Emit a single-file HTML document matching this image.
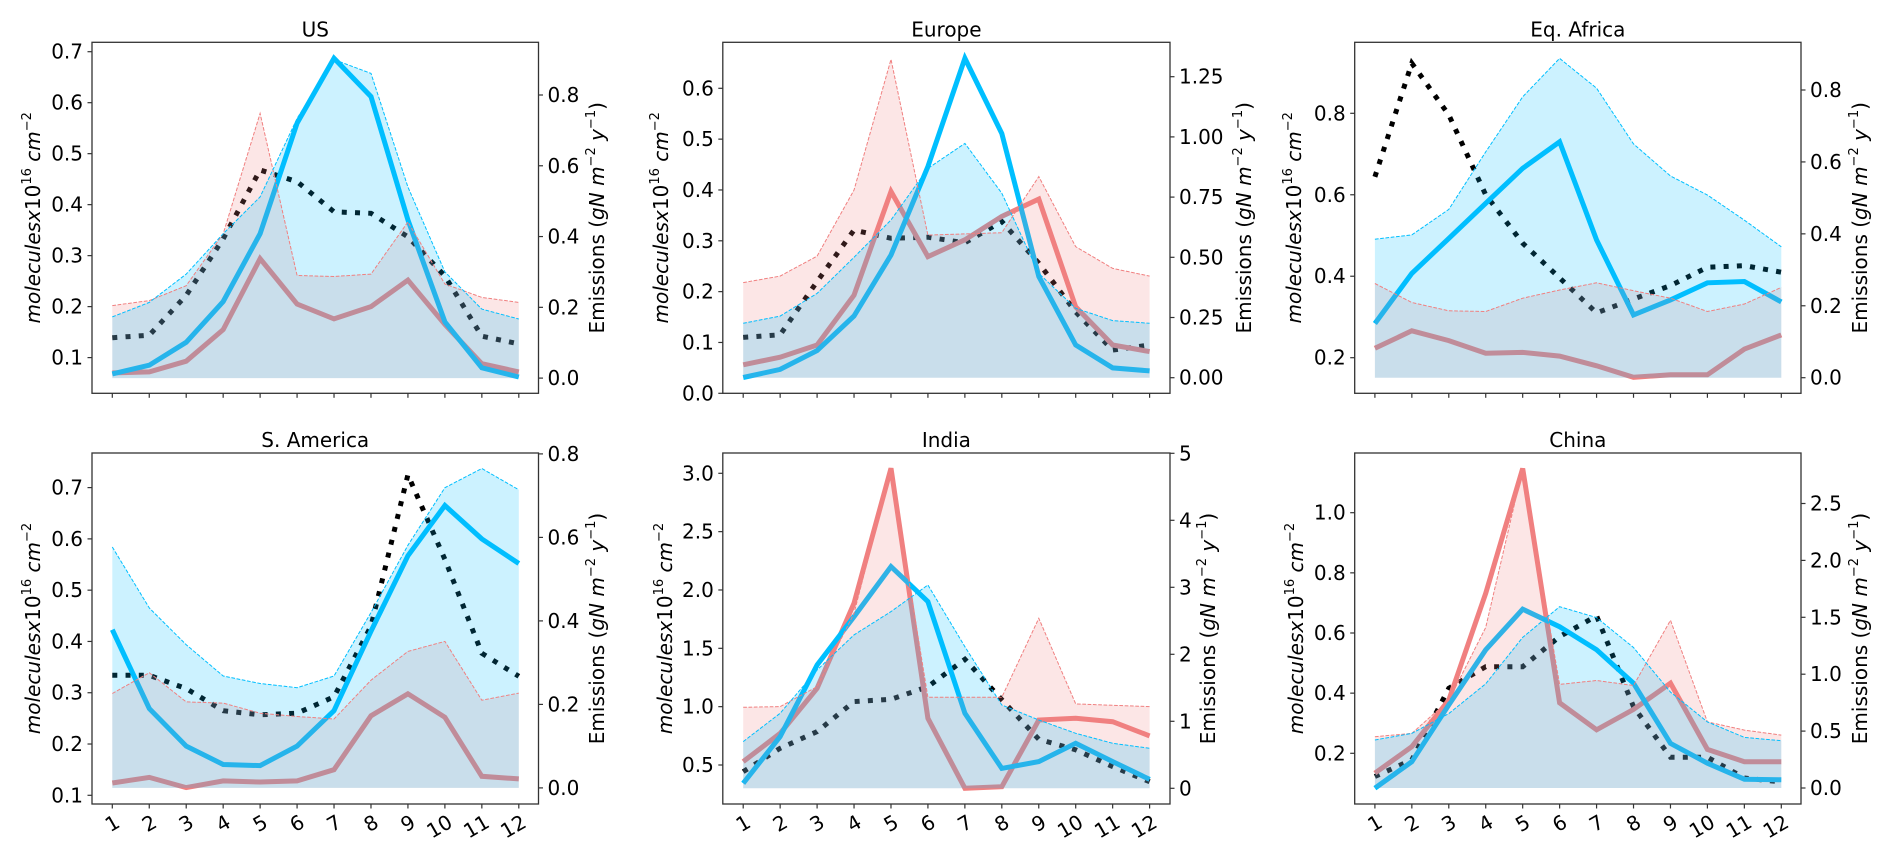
<!DOCTYPE html>
<html><head><meta charset="utf-8">
<style>
html,body{margin:0;padding:0;background:#fff;}
svg{display:block;font-family:"DejaVu Sans","Liberation Sans",sans-serif;}
</style></head>
<body>
<svg id="chart" width="1892" height="858" viewBox="0 0 1892 858" xmlns="http://www.w3.org/2000/svg"></svg>
<script>
const months = [1,2,3,4,5,6,7,8,9,10,11,12];

const usBlueLine   = [0.068,0.085,0.13,0.21,0.343,0.56,0.687,0.612,0.37,0.17,0.08,0.062];
const usRedLine    = [0.07,0.072,0.093,0.155,0.294,0.205,0.176,0.2,0.252,0.165,0.088,0.072];
const usDotted     = [0.139,0.144,0.222,0.333,0.468,0.445,0.386,0.383,0.337,0.26,0.142,0.127];
const usRedBand    = [0.205,0.219,0.261,0.408,0.748,0.29,0.287,0.294,0.441,0.266,0.228,0.214];
const usBlueBand   = [0.173,0.214,0.294,0.408,0.512,0.734,0.9,0.861,0.54,0.3,0.195,0.167];

const euBlueLine   = [0.031,0.047,0.084,0.152,0.272,0.446,0.659,0.511,0.23,0.095,0.05,0.044];
const euRedLine    = [0.056,0.071,0.095,0.193,0.397,0.269,0.302,0.348,0.382,0.17,0.095,0.082];
const euDotted     = [0.11,0.115,0.22,0.321,0.305,0.307,0.296,0.338,0.256,0.16,0.085,0.095];
const euRedBand    = [0.395,0.422,0.505,0.779,1.322,0.592,0.597,0.602,0.835,0.544,0.454,0.422];
const euBlueBand   = [0.226,0.256,0.35,0.5,0.655,0.869,0.973,0.766,0.433,0.288,0.237,0.226];

const afBlueLine   = [0.284,0.407,0.493,0.579,0.665,0.73,0.489,0.305,0.342,0.384,0.387,0.337];
const afRedLine    = [0.223,0.266,0.242,0.211,0.213,0.204,0.18,0.152,0.158,0.158,0.221,0.256];
const afDotted     = [0.644,0.923,0.796,0.6,0.481,0.396,0.31,0.344,0.377,0.422,0.426,0.41];
const afRedBand    = [0.262,0.209,0.186,0.184,0.221,0.244,0.264,0.242,0.221,0.184,0.205,0.251];
const afBlueBand   = [0.385,0.397,0.468,0.628,0.781,0.888,0.805,0.65,0.561,0.508,0.438,0.364];

const saBlueLine   = [0.423,0.269,0.196,0.16,0.158,0.196,0.265,0.42,0.567,0.665,0.6,0.552];
const saRedLine    = [0.124,0.135,0.115,0.128,0.126,0.128,0.15,0.255,0.298,0.252,0.137,0.132];
const saDotted     = [0.334,0.334,0.308,0.265,0.257,0.26,0.292,0.43,0.725,0.56,0.377,0.332];
const saRedBand    = [0.226,0.276,0.206,0.203,0.179,0.171,0.165,0.258,0.327,0.351,0.21,0.227];
const saBlueBand   = [0.577,0.431,0.343,0.268,0.25,0.24,0.268,0.42,0.581,0.719,0.765,0.714];

const inBlueLine   = [0.343,0.743,1.357,1.771,2.2,1.9,0.943,0.471,0.529,0.686,0.529,0.377];
const inRedLine    = [0.529,0.771,1.157,1.886,3.043,0.9,0.3,0.314,0.886,0.9,0.871,0.749];
const inDotted     = [0.443,0.643,0.786,1.043,1.063,1.171,1.406,1.06,0.72,0.63,0.486,0.357];
const inRedBand    = [1.209,1.219,1.517,2.612,4.751,1.358,1.358,1.358,2.537,1.259,1.239,1.219];
const inBlueBand   = [0.697,1.119,1.766,2.289,2.637,3.035,2.114,1.244,1.02,0.821,0.672,0.597];

const cnBlueLine   = [0.084,0.172,0.361,0.544,0.679,0.621,0.544,0.433,0.233,0.167,0.114,0.112];
const cnRedLine    = [0.134,0.222,0.377,0.732,1.147,0.368,0.278,0.346,0.433,0.213,0.172,0.172];
const cnDotted     = [0.123,0.178,0.416,0.488,0.488,0.588,0.657,0.355,0.187,0.187,0.118,0.105];
const cnRedBand    = [0.451,0.48,0.77,1.41,2.805,0.91,0.945,0.901,1.474,0.581,0.509,0.465];
const cnBlueBand   = [0.422,0.48,0.654,0.916,1.323,1.593,1.497,1.235,0.843,0.581,0.445,0.416];

const usLeftTicks = ["0.1","0.2","0.3","0.4","0.5","0.6","0.7"];
const usRightTicks = ["0.0","0.2","0.4","0.6","0.8"];
const euLeftTicks = ["0.0","0.1","0.2","0.3","0.4","0.5","0.6"];
const euRightTicks = ["0.00","0.25","0.50","0.75","1.00","1.25"];
const afLeftTicks = ["0.2","0.4","0.6","0.8"];
const afRightTicks = ["0.0","0.2","0.4","0.6","0.8"];
const saLeftTicks = ["0.1","0.2","0.3","0.4","0.5","0.6","0.7"];
const saRightTicks = ["0.0","0.2","0.4","0.6","0.8"];
const inLeftTicks = ["0.5","1.0","1.5","2.0","2.5","3.0"];
const inRightTicks = ["0","1","2","3","4","5"];
const cnLeftTicks = ["0.2","0.4","0.6","0.8","1.0"];
const cnRightTicks = ["0.0","0.5","1.0","1.5","2.0","2.5"];

const NS = "http://www.w3.org/2000/svg";
const svg = document.getElementById('chart');
function el(tag, attrs, parent){
  const e = document.createElementNS(NS, tag);
  for (const k in attrs) e.setAttribute(k, attrs[k]);
  (parent||svg).appendChild(e);
  return e;
}
function lin(v1,p1,v2,p2){ return v => p1 + (v - v1) * (p2 - p1) / (v2 - v1); }

const panels = [
  {key:'us', title:'US', x0:92, x1:538.5, y0:42.3, y1:393.3, mx1:112.3, mx12:518.8,
   L:[0.7,51.7,0.1,357.6], R:[0.8,95,0,378.1], leftLab:33, rightLab:597, xlabels:false,
   blue:usBlueLine, red:usRedLine, dot:usDotted, rb:usRedBand, bb:usBlueBand, lt:usLeftTicks, rt:usRightTicks},
  {key:'eu', title:'Europe', x0:722.8, x1:1170, y0:42.3, y1:393.3, mx1:743.2, mx12:1149.6,
   L:[0.6,88.3,0,393.3], R:[1.25,76.7,0,377.7], leftLab:661, rightLab:1244, xlabels:false,
   blue:euBlueLine, red:euRedLine, dot:euDotted, rb:euRedBand, bb:euBlueBand, lt:euLeftTicks, rt:euRightTicks},
  {key:'af', title:'Eq. Africa', x0:1354.7, x1:1801, y0:42.3, y1:393.3, mx1:1374.9, mx12:1781.3,
   L:[0.8,113.3,0.2,357.7], R:[0.8,90,0,377.7], leftLab:1294, rightLab:1860, xlabels:false,
   blue:afBlueLine, red:afRedLine, dot:afDotted, rb:afRedBand, bb:afBlueBand, lt:afLeftTicks, rt:afRightTicks},
  {key:'sa', title:'S. America', x0:92, x1:538.5, y0:453, y1:804, mx1:112.3, mx12:518.8,
   L:[0.7,487.6,0.1,795.3], R:[0.8,453.9,0,787.9], leftLab:33, rightLab:597, xlabels:true,
   blue:saBlueLine, red:saRedLine, dot:saDotted, rb:saRedBand, bb:saBlueBand, lt:saLeftTicks, rt:saRightTicks},
  {key:'in', title:'India', x0:722.8, x1:1170, y0:453, y1:804, mx1:743.2, mx12:1149.6,
   L:[3.0,473.3,0.5,765], R:[5,453.3,0,788.3], leftLab:665, rightLab:1208, xlabels:true,
   blue:inBlueLine, red:inRedLine, dot:inDotted, rb:inRedBand, bb:inBlueBand, lt:inLeftTicks, rt:inRightTicks},
  {key:'cn', title:'China', x0:1354.7, x1:1801, y0:453, y1:804, mx1:1374.9, mx12:1781.3,
   L:[1.0,512.7,0.2,753.3], R:[2.5,503.5,0,788], leftLab:1296, rightLab:1860, xlabels:true,
   blue:cnBlueLine, red:cnRedLine, dot:cnDotted, rb:cnRedBand, bb:cnBlueBand, lt:cnLeftTicks, rt:cnRightTicks}
];

function pathFrom(xs, ys){ return xs.map((x,i)=>(i?'L':'M')+x.toFixed(1)+','+ys[i].toFixed(1)).join(' '); }

panels.forEach(p => {
  const g = el('g', {});
  
  
  const xs = lin(1, p.mx1, 12, p.mx12);
  const yl = lin(p.L[0], p.L[1], p.L[2], p.L[3]);
  const yr = lin(p.R[0], p.R[1], p.R[2], p.R[3]);
  const X = months.map(m => xs(m));

  const dl = el('path', {d: pathFrom(X, p.dot.map(yl)), fill:'none', stroke:'#000', 'stroke-width':5, 'stroke-dasharray':'5 8.25'}, g);
  
  
  const rl = el('path', {d: pathFrom(X, p.red.map(yl)), fill:'none', stroke:'#f08080', 'stroke-width':5}, g);
  
  
  const bl = el('path', {d: pathFrom(X, p.blue.map(yl)), fill:'none', stroke:'#00bfff', 'stroke-width':5}, g);
  
  

  const base = yr(0);
  const rbY = p.rb.map(yr);
  const rf = el('path', {d: pathFrom(X, rbY) + ' L' + X[11] + ',' + base + ' L' + X[0] + ',' + base + ' Z', fill:'#f08080', 'fill-opacity':0.2, stroke:'none'}, g);
  
  
  const bbY = p.bb.map(yr);
  const bf = el('path', {d: pathFrom(X, bbY) + ' L' + X[11] + ',' + base + ' L' + X[0] + ',' + base + ' Z', fill:'#00bfff', 'fill-opacity':0.2, stroke:'none'}, g);
  
  
  const re = el('path', {d: pathFrom(X, rbY), fill:'none', stroke:'#f08080', 'stroke-width':1, 'stroke-dasharray':'3.7 1.6'}, g);
  
  
  const be = el('path', {d: pathFrom(X, bbY), fill:'none', stroke:'#00bfff', 'stroke-width':1, 'stroke-dasharray':'3.7 1.6'}, g);
  
  

  const fr = el('rect', {x:p.x0, y:p.y0, width:p.x1-p.x0, height:p.y1-p.y0, fill:'none', stroke:'#333', 'stroke-width':1.3}, g);
  
  

  const t = el('text', {x:(p.x0+p.x1)/2, y:p.y0-6, 'text-anchor':'middle', 'font-size':20, fill:'#000'}, g);
  t.textContent = p.title;
  
  

  p.lt.forEach(s => {
    const y = yl(parseFloat(s));
    el('line', {x1:p.x0-4.5, x2:p.x0, y1:y, y2:y, stroke:'#333', 'stroke-width':1.2}, g);
    const tx = el('text', {x:p.x0-9, y:y+7, 'text-anchor':'end', 'font-size':20}, g);
    tx.textContent = s;
    
    
  });
  p.rt.forEach(s => {
    const y = yr(parseFloat(s));
    el('line', {x1:p.x1, x2:p.x1+4.5, y1:y, y2:y, stroke:'#333', 'stroke-width':1.2}, g);
    const tx = el('text', {x:p.x1+9, y:y+7, 'text-anchor':'start', 'font-size':20}, g);
    tx.textContent = s;
    
    
  });
  months.forEach((m,i) => {
    el('line', {x1:X[i], x2:X[i], y1:p.y1, y2:p.y1+4.5, stroke:'#333', 'stroke-width':1.2}, g);
    if (p.xlabels) {
      const ax = X[i]+2, ay = p.y1+10;
      const tx = el('text', {x:ax, y:ay+14, 'text-anchor':'end', 'font-size':20, transform:'rotate(-30 '+ax+' '+ay+')'}, g);
      tx.textContent = String(m);
      
      
    }
  });

  const cy = (p.y0+p.y1)/2;
  const ll = el('text', {x:p.leftLab+7, y:cy, 'text-anchor':'middle', 'font-size':20, transform:'rotate(-90 '+(p.leftLab+7)+' '+cy+')'}, g);
  ll.innerHTML = '<tspan font-style="italic">moleculesx</tspan>10<tspan font-size="13" dy="-9">16</tspan><tspan dy="9">  </tspan><tspan font-style="italic">cm</tspan><tspan font-size="13" dy="-9">−2</tspan>';
  
  
  const rl2 = el('text', {x:p.rightLab+7, y:cy, 'text-anchor':'middle', 'font-size':20, transform:'rotate(-90 '+(p.rightLab+7)+' '+cy+')'}, g);
  rl2.innerHTML = 'Emissions (<tspan font-style="italic">gN  m</tspan><tspan font-size="13" dy="-9">−2</tspan><tspan dy="9" font-style="italic">  y</tspan><tspan font-size="13" dy="-9">−1</tspan><tspan dy="9">)</tspan>';
  
  
});
</script>
</body></html>
